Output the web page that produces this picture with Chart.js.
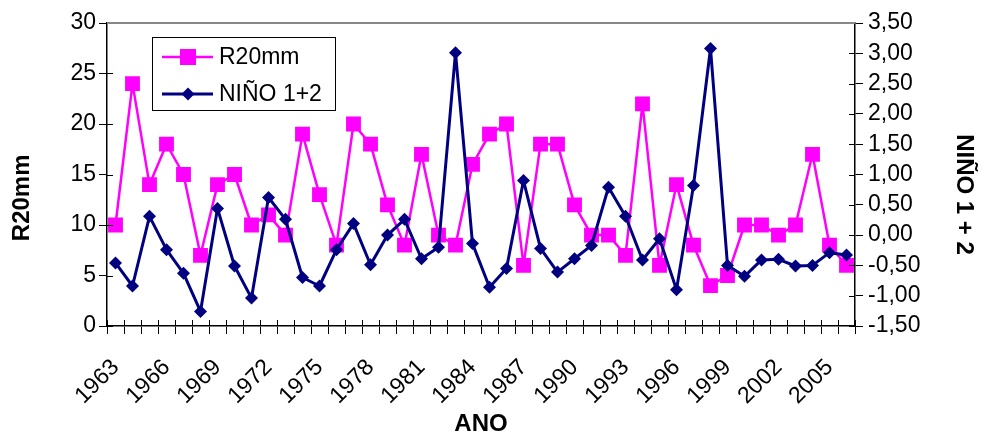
<!DOCTYPE html>
<html><head><meta charset="utf-8">
<script src="https://cdn.jsdelivr.net/npm/chart.js@4/dist/chart.umd.min.js"></script>
<style>html,body{margin:0;background:#fff}#wrap{width:984px;height:436px}</style>
</head><body><div id="wrap"><canvas id="c"></canvas></div>
<script>
const anos=['1963','1964','1965','1966','1967','1968','1969','1970','1971','1972','1973','1974','1975','1976','1977',
'1978','1979','1980','1981','1982','1983','1984','1985','1986','1987','1988','1989','1990','1991','1992','1993',
'1994','1995','1996','1997','1998','1999','2000','2001','2002','2003','2004','2005','2006'];
const r20mm=[10,24,14,18,15,7,14,15,10,11,9,19,13,8,20,18,12,8,17,9,8,16,19,20,6,18,18,12,9,9,7,22,6,14,8,4,5,10,10,9,10,17,8,6];
const nino12=[-0.46,-0.84,0.31,-0.24,-0.63,-1.26,0.44,-0.51,-1.04,0.62,0.26,-0.70,-0.84,-0.24,0.19,-0.49,0.0,0.26,-0.39,-0.20,3.01,
-0.14,-0.86,-0.55,0.90,-0.22,-0.61,-0.39,-0.17,0.79,0.31,-0.41,-0.06,-0.90,0.82,3.08,-0.50,-0.68,-0.41,-0.40,-0.51,-0.50,-0.29,-0.33];

const fam='"Liberation Sans", Arial, sans-serif';
const pink='#ff00ff', navy='#000080';

// legenda em caixa, borda superior cinza e marcas de tick para dentro
const extras={
  id:'extras',
  afterDraw(chart){
    const ctx=chart.ctx, a=chart.chartArea;
    ctx.save();
    ctx.strokeStyle='#000';ctx.lineWidth=1;
    const sx=chart.scales.x, sy=chart.scales.y, sy1=chart.scales.y1;
    const p0=sx.getPixelForValue(0), passo=sx.getPixelForValue(1)-p0;
    ctx.beginPath();
    for(let i=0;i<=anos.length;i++){
      const px=Math.round(p0+(i-0.5)*passo)+0.5;
      ctx.moveTo(px,a.bottom);ctx.lineTo(px,a.bottom-6);
    }
    sy.ticks.forEach((t,i)=>{const py=Math.round(sy.getPixelForTick(i))+0.5;ctx.moveTo(a.left,py);ctx.lineTo(a.left+6,py);});
    sy1.ticks.forEach((t,i)=>{const py=Math.round(sy1.getPixelForTick(i))+0.5;ctx.moveTo(a.right,py);ctx.lineTo(a.right-6,py);});
    ctx.stroke();

    ctx.strokeStyle='#888';ctx.lineWidth=2;
    ctx.beginPath();ctx.moveTo(a.left,a.top);ctx.lineTo(a.right,a.top);ctx.stroke();

    const x0=152,y0=37,w=183,h=73;
    ctx.fillStyle='#fff';ctx.fillRect(x0,y0,w,h);
    ctx.strokeStyle='#000';ctx.lineWidth=1;ctx.strokeRect(x0+0.5,y0+0.5,w,h);
    const rows=[{ds:chart.data.datasets[1],y:y0+20},{ds:chart.data.datasets[0],y:y0+57}];
    rows.forEach(r=>{
      ctx.strokeStyle=r.ds.borderColor;ctx.lineWidth=r.ds.borderWidth;
      ctx.beginPath();ctx.moveTo(x0+10,r.y);ctx.lineTo(x0+61,r.y);ctx.stroke();
      ctx.fillStyle=r.ds.backgroundColor;
      const cx=x0+36;
      if(r.ds.pointStyle==='rect'){ctx.fillRect(cx-8,r.y-8,16,16);}
      else{ctx.beginPath();ctx.moveTo(cx-6.5,r.y);ctx.lineTo(cx,r.y-6.5);ctx.lineTo(cx+6.5,r.y);ctx.lineTo(cx,r.y+6.5);ctx.closePath();ctx.fill();}
      ctx.fillStyle='#000';ctx.font='23px '+fam;ctx.textBaseline='middle';
      ctx.fillText(r.ds.label,x0+67,r.y+1);
    });
    ctx.restore();
  }
};

const eixo={drawOnChartArea:false,drawTicks:true,tickLength:8,color:'#000',lineWidth:1};

new Chart(document.getElementById('c'),{
  type:'line',
  data:{labels:anos,datasets:[
    {label:'NIÑO 1+2',data:nino12,yAxisID:'y1',borderColor:navy,backgroundColor:navy,borderWidth:3,borderJoinStyle:'round',
     pointStyle:'rectRot',pointRadius:6.5,pointBorderWidth:0,tension:0,order:0},
    {label:'R20mm',data:r20mm,yAxisID:'y',borderColor:pink,backgroundColor:pink,borderWidth:2.5,borderJoinStyle:'round',
     pointStyle:'rect',pointRadius:10.5,pointBorderWidth:0,tension:0,order:1}
  ]},
  options:{
    responsive:true,maintainAspectRatio:false,animation:false,devicePixelRatio:1,
    layout:{padding:{left:8,right:2,top:23,bottom:0}},
    plugins:{legend:{display:false},tooltip:{enabled:false}},
    scales:{
      x:{offset:true,grid:{...eixo,offset:true},border:{color:'#000',width:1.5},
        ticks:{autoSkip:false,maxRotation:45,minRotation:45,color:'#000',font:{family:fam,size:23},padding:20,
          callback:(v,i)=>i%3===0?anos[i]:''},
        title:{display:true,text:'ANO',color:'#000',font:{family:fam,size:24,weight:'bold'},padding:{top:0,bottom:-3}},
        afterFit:s=>{s.height=110;}},
      y:{position:'left',min:0,max:30,grid:eixo,border:{color:'#000',width:1.5},
        ticks:{autoSkip:false,stepSize:5,color:'#000',font:{family:fam,size:23},padding:3},
        title:{display:true,text:'R20mm       ',color:'#000',font:{family:fam,size:24,weight:'bold'},padding:{top:0,bottom:4}},
        afterFit:s=>{s.width=99;}},
      y1:{position:'right',min:-1.5,max:3.5,grid:eixo,border:{color:'#000',width:1.5},
        ticks:{autoSkip:false,stepSize:0.5,color:'#000',font:{family:fam,size:23},padding:5,
          callback:v=>v.toFixed(2).replace('.',',')},
        title:{display:true,text:'      NIÑO 1 + 2',color:'#000',font:{family:fam,size:24,weight:'bold'},padding:{top:4,bottom:0}},
        afterFit:s=>{s.width=127;}}
    }
  },
  plugins:[extras]
});
</script></body></html>
